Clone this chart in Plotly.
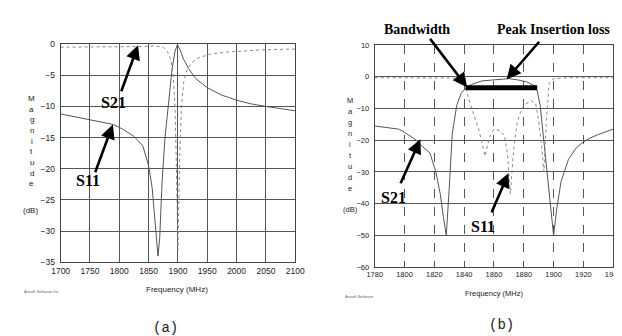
import plotly.graph_objects as go

# ---------------- data ----------------
# panel (a)
a_s11_freq = [1700, 1725, 1750, 1775, 1790, 1805, 1825, 1840, 1850, 1856, 1860, 1863, 1866,
              1869, 1873, 1878, 1884, 1890, 1895, 1899, 1903, 1910, 1918, 1930, 1950, 1975,
              2000, 2025, 2050, 2075, 2100]
a_s11_db = [-11.2, -11.7, -12.1, -12.6, -12.9, -13.6, -14.8, -16.3, -19.5, -23, -27, -31, -34,
            -31, -22, -15, -9, -4, -1.2, -0.1, -0.8, -2.5, -3.9, -5.5, -7.0, -8.2,
            -9.0, -9.6, -10.0, -10.3, -10.7]
a_s21_freq = [1700, 1750, 1800, 1840, 1860, 1875, 1882, 1888, 1892, 1895, 1897, 1899, 1900,
              1901, 1903, 1906, 1910, 1915, 1923, 1935, 1956, 1980, 2011, 2050, 2100]
a_s21_db = [-0.5, -0.5, -0.5, -0.4, -0.3, -0.5, -1.2, -2.5, -5, -10, -18, -28, -33,
            -28, -18, -10, -6, -4.3, -3.0, -2.2, -1.6, -1.3, -1.1, -0.9, -0.8]

# panel (b)
b_s21_freq = [1780, 1790, 1796, 1800, 1808, 1812, 1817, 1821, 1824, 1826, 1828, 1830, 1832,
              1835, 1838, 1841, 1845, 1852, 1860, 1866, 1870, 1875, 1882, 1887, 1889, 1891,
              1893, 1896, 1898, 1900, 1902, 1905, 1910, 1915, 1920, 1925, 1930, 1935, 1940]
b_s21_db = [-15.5, -16.2, -16.5, -17.5, -20, -22, -24, -30, -37, -44, -50, -35, -18,
            -9, -5.2, -3.6, -2.4, -1.3, -0.9, -0.7, -0.6, -0.9, -1.6, -2.8, -4.5, -9,
            -18, -30, -40, -50, -42, -33, -26, -22.5, -20.5, -19.2, -18.2, -17.3, -16.5]
b_s11_freq = [1780, 1800, 1820, 1832, 1836, 1838, 1840, 1842, 1844, 1847, 1850, 1854, 1857,
              1860, 1864, 1867, 1869, 1871, 1873, 1875, 1877, 1880, 1885, 1888, 1890, 1892,
              1893.5, 1895, 1897, 1900, 1910, 1925, 1940]
b_s11_db = [-0.3, -0.3, -0.3, -0.4, -0.6, -1.2, -2.6, -5, -8.5, -13, -17, -25, -19,
            -16.5, -17, -18.6, -24, -37, -24, -16, -12, -9, -7.5, -8.5, -14, -22,
            -30, -15, -2, -0.6, -0.3, -0.3, -0.3]

# bandwidth marker (b)
bw_freq = [1841, 1889]
bw_level = [-3.5, -3.5]

a_xticks = [1700, 1750, 1800, 1850, 1900, 1950, 2000, 2050, 2100]
a_yticks = [0, -5, -10, -15, -20, -25, -30, -35]
b_xticks = [1780, 1800, 1820, 1840, 1860, 1880, 1900, 1920, 1940]
b_yticks = [10, 0, -10, -20, -30, -40, -50, -60]

title_letters = list("Magnitude")

# ---------------- figure ----------------
W, H = 622, 336
fig = go.Figure()

fig.add_trace(go.Scatter(x=a_s11_freq, y=a_s11_db, mode="lines", xaxis="x", yaxis="y",
                         line=dict(color="#555555", width=1)))
fig.add_trace(go.Scatter(x=a_s21_freq, y=a_s21_db, mode="lines", xaxis="x", yaxis="y",
                         line=dict(color="#888888", width=1, dash="dot")))
fig.add_trace(go.Scatter(x=b_s21_freq, y=b_s21_db, mode="lines", xaxis="x2", yaxis="y2",
                         line=dict(color="#555555", width=1)))
fig.add_trace(go.Scatter(x=b_s11_freq, y=b_s11_db, mode="lines", xaxis="x2", yaxis="y2",
                         line=dict(color="#888888", width=1, dash="dot")))
fig.add_trace(go.Scatter(x=bw_freq, y=bw_level, mode="lines", xaxis="x2", yaxis="y2",
                         line=dict(color="black", width=5)))

font_a = dict(family="Liberation Sans", size=8.5, color="#222222")
font_b = dict(family="Liberation Sans", size=7.5, color="#222222")
common = dict(showgrid=True, gridcolor="#555555", gridwidth=1, showline=True,
              linecolor="#444444", linewidth=1, mirror=True, zeroline=False,
              ticks="", fixedrange=True, ticklabeloverflow="allow")

fig.update_layout(
    width=W, height=H, margin=dict(l=0, r=0, t=0, b=0),
    paper_bgcolor="white", plot_bgcolor="white", showlegend=False,
    xaxis=dict(domain=[45 / W, 287 / W], range=[1700, 2100], tickvals=a_xticks,
               anchor="y", tickfont=font_a, ticklabelstandoff=0, **common),
    yaxis=dict(domain=[1 - 257 / H, 1 - 32 / H], range=[-35, 0], tickvals=a_yticks,
               anchor="x", tickfont=font_a, ticklabelstandoff=3, **common),
    xaxis2=dict(domain=[369 / W, 615 / W], range=[1780, 1940], tickvals=b_xticks,
                anchor="y2", griddash="dash", tickfont=font_b, ticklabelstandoff=0,
                **common),
    yaxis2=dict(domain=[1 - 262 / H, 1 - 33 / H], range=[-60, 10], tickvals=b_yticks,
                anchor="x2", tickfont=font_b, ticklabelstandoff=3, **common),
)

ann = []
label_font = dict(family="Liberation Serif", size=16, color="black")
arrow_kw = dict(showarrow=True, arrowhead=2, arrowsize=1.1, arrowwidth=2.6,
                arrowcolor="black", standoff=0, text="")


def arrow(xr, yr, head, tail):
    return dict(xref=xr, yref=yr, axref=xr, ayref=yr, x=head[0], y=head[1],
                ax=tail[0], ay=tail[1], **arrow_kw)


def label(xr, yr, pos, txt, size=16):
    f = dict(label_font)
    f["size"] = size
    return dict(xref=xr, yref=yr, x=pos[0], y=pos[1], text="<b>" + txt + "</b>",
                showarrow=False, font=f, xanchor="center", yanchor="middle")


def ptext(px, py, txt, font, xanchor="center"):
    return dict(xref="paper", yref="paper", x=px / W, y=1 - py / H, text=txt,
                showarrow=False, font=font, xanchor=xanchor, yanchor="middle")


# panel (a) labels and arrows
ann.append(label("x", "y", (1791, -9.3), "S21"))
ann.append(arrow("x", "y", (1832, -0.2), (1802.5, -7.8)))
ann.append(label("x", "y", (1746, -21.9), "S11"))
ann.append(arrow("x", "y", (1789, -12.9), (1758, -20.8)))

# panel (b) labels and arrows
big = dict(family="Liberation Serif", size=14, color="black")
ann.append(ptext(413, 17, "<b>Bandwidth</b>", big))
ann.append(arrow("x2", "y2", (1842, -3.3), (1816.4, 12.4)))
ann.append(ptext(553, 17, "<b>Peak Insertion loss</b>", big))
ann.append(arrow("x2", "y2", (1868.5, -0.8), (1891.2, 11.5)))
ann.append(label("x2", "y2", (1792.4, -38.0), "S21"))
ann.append(arrow("x2", "y2", (1810.6, -19.7), (1796.9, -34.0)))
ann.append(label("x2", "y2", (1852.8, -47.2), "S11"))
ann.append(arrow("x2", "y2", (1869.7, -30.4), (1858.0, -43.2)))

small = dict(family="Liberation Sans", size=8, color="#222222")
small_b = dict(family="Liberation Sans", size=7.5, color="#222222")

# vertical stacked axis titles
for i, ch in enumerate(title_letters):
    ann.append(ptext(15, 88 + 11 * i, ch, small))
    ann.append(ptext(344, 90 + 11.4 * i, ch, small_b))
ann.append(ptext(14, 204, "(dB)", small))
ann.append(ptext(344, 203, "(dB)", small_b))

# x titles
ann.append(ptext(165, 285, "Frequency (MHz)", small))
ann.append(ptext(492, 289, "Frequency (MHz)", small_b))

# tiny credits
tiny = dict(family="Liberation Sans", size=4, color="#666666")
ann.append(ptext(25, 287, "Ansoft Software Inc", tiny))
ann.append(ptext(353, 292, "Ansoft Software", tiny))

# captions
cap = dict(family="Liberation Mono", size=14, color="#222222")
ann.append(ptext(153, 325, "(a)", cap))
ann.append(ptext(500, 322, "(b)", cap))

fig.update_layout(annotations=ann)
fig.write_html("out.html")
